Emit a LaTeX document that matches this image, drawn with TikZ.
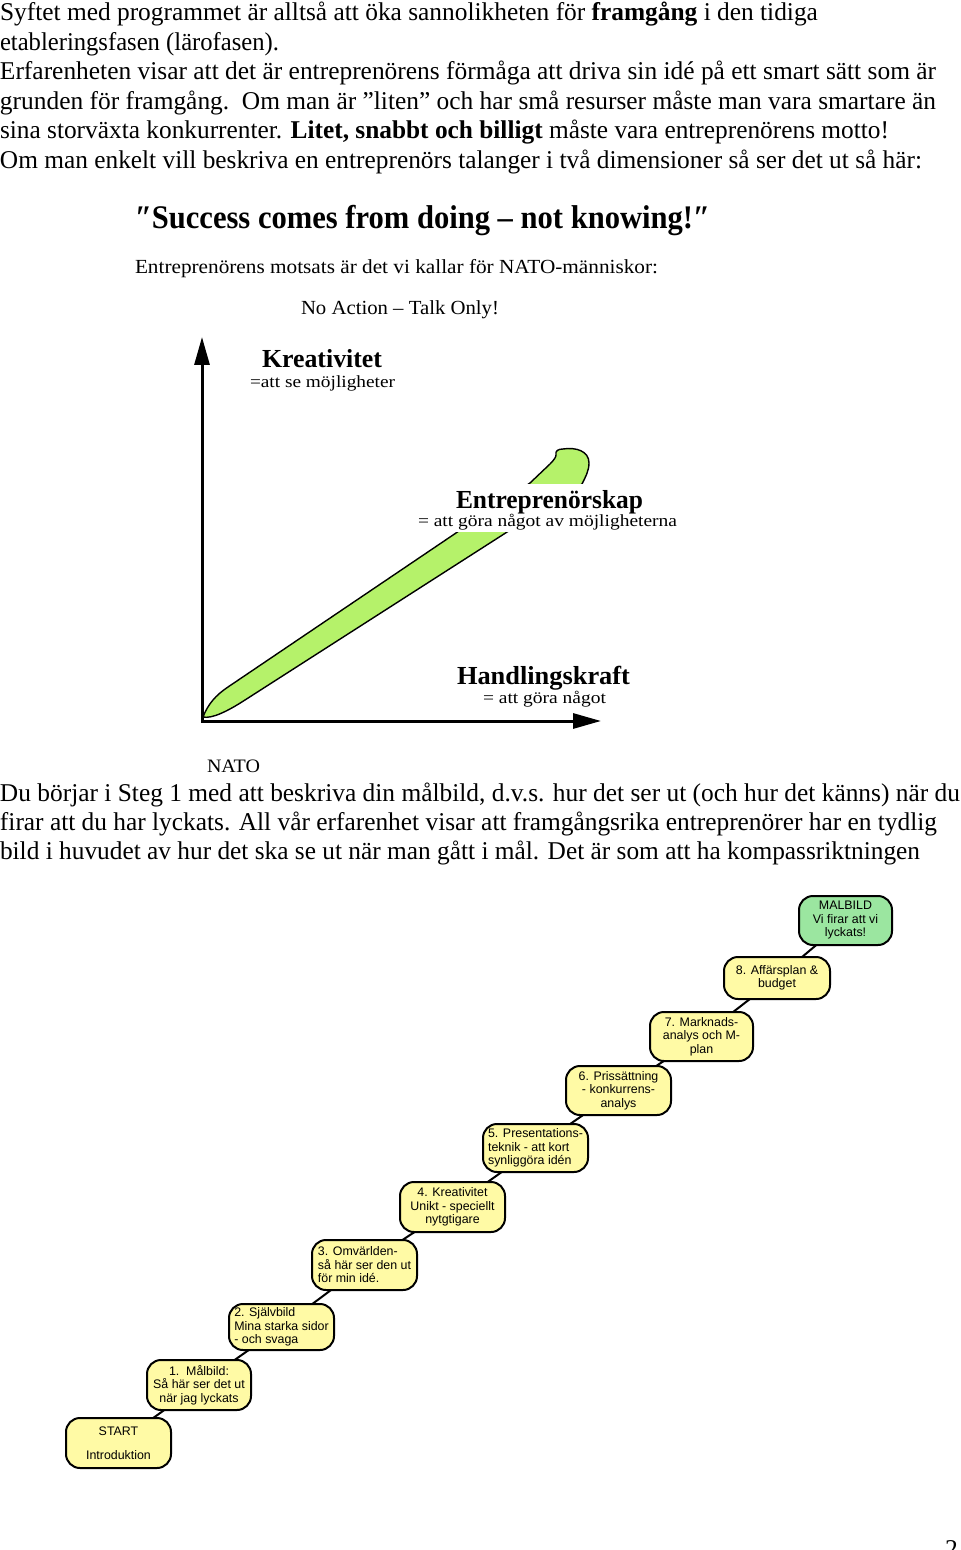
\documentclass[tikz,border=0pt]{standalone}
\usepackage{fontspec}
\usepackage{graphicx}
\usetikzlibrary{arrows.meta,backgrounds}
\newfontfamily\tnr{Liberation Serif}
\newfontfamily\arial{Liberation Sans}
\definecolor{stepyellow}{RGB}{255,250,165}
\definecolor{goalgreen}{RGB}{155,230,160}
\definecolor{leafgreen}{RGB}{181,242,106}
\newsavebox\fitbox
\newcommand\fitto[2]{\sbox\fitbox{#2}\pgfmathsetmacro\fitsc{#1/\the\wd\fitbox}\scalebox{\fitsc}[1]{\usebox\fitbox}}
\newcommand\bodyf{\tnr\fontsize{12.8}{15}\selectfont}
\newcommand\palf[1]{\tnr\fontsize{#1}{#1}\selectfont}
\tikzset{
  txt/.style={anchor=base west, inner sep=0pt, outer sep=0pt},
  stepbox/.style={draw, line width=1pt, rounded corners=7pt, fill=stepyellow,
    minimum width=52.5pt, minimum height=25pt, inner sep=1.5pt,
    font=\arial\fontsize{6.2}{6.75}\selectfont, align=center},
  conn/.style={line width=1pt},
  axis/.style={line width=1.5pt, {Triangle[length=14pt,width=7.5pt]}-{Triangle[length=14pt,width=7.5pt]}}
}
\begin{document}
\begin{tikzpicture}[x=0.5pt,y=-0.5pt]
\useasboundingbox (0,0) rectangle (960,1550);
% top paragraph
\node[txt] (t1) at (0,21) {\fitto{409pt}{\bodyf Syftet med programmet är alltså att öka sannolikheten för \textbf{framgång} i den tidiga}};
\node[txt] (t2) at (0,50.5) {\fitto{139.5pt}{\bodyf etableringsfasen (lärofasen).}};
\node[txt] (t3) at (0,80) {\fitto{468pt}{\bodyf Erfarenheten visar att det är entreprenörens förmåga att driva sin idé på ett smart sätt som är}};
\node[txt] (t4) at (0,109.5) {\fitto{468pt}{\bodyf grunden för framgång.\ \ Om man är ”liten” och har små resurser måste man vara smartare än}};
\node[txt] (t5) at (0,139) {\fitto{444.5pt}{\bodyf sina storväxta konkurrenter. \textbf{Litet, snabbt och billigt} måste vara entreprenörens motto!}};
\node[txt] (t6) at (0,168.5) {\fitto{461pt}{\bodyf Om man enkelt vill beskriva en entreprenörs talanger i två dimensioner så ser det ut så här:}};
% quote
\node[txt] (quote) at (135,229) {\fitto{287.5pt}{\palf{16.5}\bfseries ″Success comes from doing – not knowing!″}};
\node[txt] (motsats) at (135,274) {\fitto{261.5pt}{\palf{10}Entreprenörens motsats är det vi kallar för NATO-människor:}};
\node[txt] (noaction) at (301,315) {\fitto{99pt}{\palf{10}No Action – Talk Only!}};
% chart
\draw[axis] (202,337) -- (202,721) -- (601,721);
\draw[fill=leafgreen, line width=0.7pt] (203,717) .. controls (208,704) and (216,695) .. (228,687) -- (530,483) -- (550,464) .. controls (554,460) and (556,457) .. (556,455) .. controls (555,451) and (558,449) .. (563,449) .. controls (576,447) and (589,451) .. (589,463) .. controls (589,471) and (585,478) .. (582,484) -- (245,700) .. controls (228,711) and (212,719) .. (203,717) -- cycle;
\fill[white] (440,484.5) rectangle (600,532);
\node[txt] (krea) at (262,368) {\fitto{60pt}{\palf{13}\bfseries Kreativitet}};
\node[txt] (kreasub) at (250,388) {\fitto{72.5pt}{\palf{8.5}=att se möjligheter}};
\node[txt] (entr) at (456,509) {\fitto{93.5pt}{\palf{13}\bfseries Entreprenörskap}};
\node[txt] (entrsub) at (418,527) {\fitto{129.5pt}{\palf{8.5}= att göra något av möjligheterna}};
\node[txt] (hand) at (457,684) {\fitto{86.5pt}{\palf{13}\bfseries Handlingskraft}};
\node[txt] (handsub) at (483,703) {\fitto{61.5pt}{\palf{8.5}= att göra något}};
\node[txt] (nato) at (207,772) {\fitto{26.5pt}{\tnr\fontsize{9.5}{11}\selectfont NATO}};
% bottom paragraph
\node[txt] (b1) at (0,801) {\fitto{480pt}{\bodyf Du börjar i Steg 1 med att beskriva din målbild, d.v.s. hur det ser ut (och hur det känns) när du}};
\node[txt] (b2) at (0,830) {\fitto{468.5pt}{\bodyf firar att du har lyckats. All vår erfarenhet visar att framgångsrika entreprenörer har en tydlig}};
\node[txt] (b3) at (0,859) {\fitto{460pt}{\bodyf bild i huvudet av hur det ska se ut när man gått i mål. Det är som att ha kompassriktningen}};
% steps
\node[stepbox, fill=goalgreen, minimum width=46.5pt, minimum height=24.5pt] (mal) at (845.5,920.5) {MALBILD\\Vi firar att vi\\lyckats!};
\node[stepbox, minimum width=53pt, minimum height=21pt] (s8) at (777,978) {8. Affärsplan \&\\budget};
\node[stepbox, minimum width=51.5pt, minimum height=24.5pt] (s7) at (701.5,1036.5) {7. Marknads-\\analys och M-\\plan};
\node[stepbox, minimum height=24.5pt] (s6) at (618.5,1090.5) {6. Prissättning\\- konkurrens-\\analys};
\node[stepbox, minimum height=24pt, align=left] (s5) at (535.5,1148) {5. Presentations-\\teknik - att kort\\synliggöra idén};
\node[stepbox] (s4) at (452.5,1207) {4. Kreativitet\\Unikt - speciellt\\nytgtigare};
\node[stepbox, align=left] (s3) at (364.5,1265) {3. Omvärlden-\\så här ser den ut\\för min idé.};
\node[stepbox, minimum height=23pt, align=left] (s2) at (281.5,1327) {2. Självbild\\Mina starka sidor\\- och svaga};
\node[stepbox, minimum width=52pt] (s1) at (199,1385) {1.\ \ Målbild:\\Så här ser det ut\\när jag lyckats};
\node[stepbox] (start) at (118.5,1443) {START\\[5pt]Introduktion};
\begin{pgfonlayer}{background}
\draw[conn] (start.center) -- (s1.center);
\draw[conn] (s1.center) -- (s2.center);
\draw[conn] (s2.center) -- (s3.center);
\draw[conn] (s3.center) -- (s4.center);
\draw[conn] (s4.center) -- (s5.center);
\draw[conn] (s5.center) -- (s6.center);
\draw[conn] (s6.center) -- (s7.center);
\draw[conn] (s7.center) -- (s8.center);
\draw[conn] (s8.center) -- (mal.center);
\end{pgfonlayer}
% page number
\node[txt] (page) at (945,1557) {\bodyf 2};
\end{tikzpicture}
\end{document}
